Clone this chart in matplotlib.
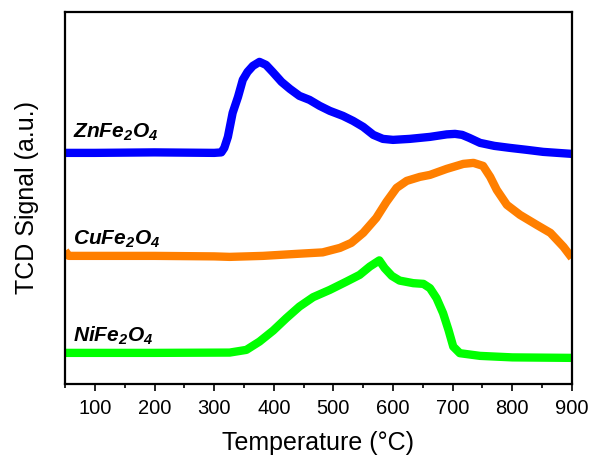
import matplotlib
matplotlib.use("Agg")
import matplotlib.pyplot as plt
from matplotlib.ticker import MultipleLocator

plt.rcParams['font.family'] = ['Liberation Sans', 'DejaVu Sans']
plt.rcParams['mathtext.fontset'] = 'custom'
plt.rcParams['mathtext.it'] = 'Liberation Sans:italic:bold'
plt.rcParams['mathtext.bf'] = 'Liberation Sans:italic:bold'
plt.rcParams['mathtext.rm'] = 'Liberation Sans:italic:bold'

# ZnFe2O4 (blue)
zn_T = [50, 100, 200, 300, 312, 317, 323, 331, 340, 348, 356, 365, 376, 387, 398, 413,
        427, 443, 460, 477, 494, 516, 533, 550, 567, 583, 600, 628, 662, 690, 704, 716,
        728, 746, 770, 796, 825, 852, 900]
zn_S = [231, 231, 231.5, 231, 231.5, 236, 247, 271, 287, 304, 312, 318, 322, 319, 312, 302,
        295, 288, 284, 278, 273, 268, 263, 257, 249, 245, 244, 245, 247, 249.5, 250, 249,
        246, 241, 238, 236, 234, 232, 230]

# CuFe2O4 (orange)
cu_T = [50, 56, 100, 200, 300, 326, 382, 438, 482, 511, 530, 550, 572, 589, 606, 623,
        645, 662, 690, 718, 735, 751, 763, 774, 791, 813, 841, 864, 886, 900]
cu_S = [133, 128, 128, 128, 127.5, 127, 128, 130, 131.5, 136, 141, 151, 166, 182, 196, 203,
        207, 209, 215, 220, 221, 218, 207, 194, 179, 169, 159, 151, 137, 126]

# NiFe2O4 (green)
ni_T = [50, 200, 326, 354, 376, 399, 421, 443, 466, 494, 522, 544, 561, 577, 586, 598,
        611, 634, 651, 662, 673, 684, 693, 701, 712, 746, 800, 900]
ni_S = [31, 31, 31.3, 34, 42.3, 53.3, 65.7, 77.3, 86.7, 94, 102.3, 109, 117.3, 123.5, 115.7, 108,
        103.3, 100.7, 100, 95.7, 85.7, 70.7, 54, 37.3, 30.7, 28, 26.5, 26]

labels = [r'ZnFe$_2$O$_4$', r'CuFe$_2$O$_4$', r'NiFe$_2$O$_4$']
label_y = [246, 139, 42]
colors = ['#0000FF', '#FF7F00', '#00FF00']

fig = plt.figure(figsize=(5.92, 4.57), dpi=100)
ax = fig.add_axes([0.110, 0.160, 0.856, 0.814])

for T, S, c in zip([zn_T, cu_T, ni_T], [zn_S, cu_S, ni_S], colors):
    ax.plot(T, S, color=c, lw=6, solid_capstyle='butt', solid_joinstyle='round')

for lab, y in zip(labels, label_y):
    ax.text(63, y, lab, fontsize=15, fontweight='bold', fontstyle='italic',
            va='baseline', ha='left')

ax.set_xlim(50, 900)
ax.set_ylim(0, 372)
ax.set_yticks([])
ax.xaxis.set_major_locator(MultipleLocator(100))
ax.xaxis.set_minor_locator(MultipleLocator(50))
ax.tick_params(axis='x', which='major', direction='out', length=5, width=1.2,
               labelsize=14.5, pad=6)
ax.tick_params(axis='x', which='minor', direction='out', length=3, width=1.2)
for s in ax.spines.values():
    s.set_linewidth(1.6)

ax.set_xlabel('Temperature (°C)', fontsize=18, labelpad=9)
ax.set_ylabel('TCD Signal (a.u.)', fontsize=18, labelpad=19)

fig.savefig('out.png', dpi=100)
